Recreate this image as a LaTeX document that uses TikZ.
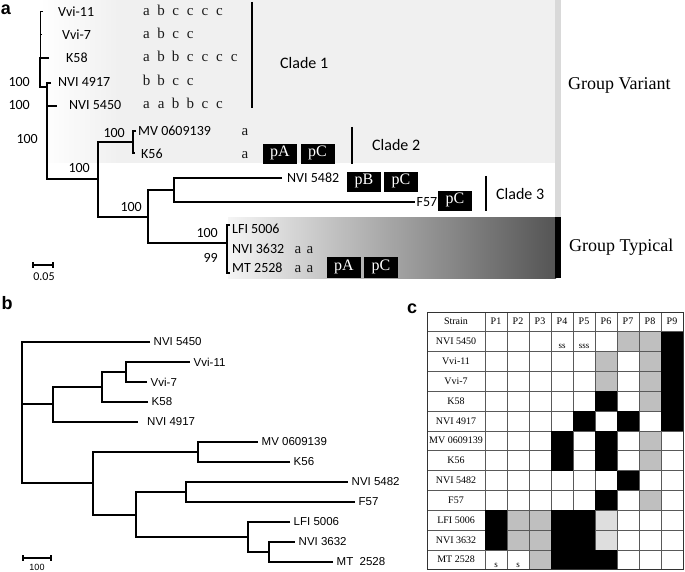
\documentclass[tikz,border=0pt]{standalone}
\usepackage{fontspec}
\setmainfont{Liberation Serif}
\newfontfamily\calfont{Carlito}
\newfontfamily\arialfont{Liberation Sans}
\tikzset{
  tl/.style={font=\calfont\fontsize{14}{14}\selectfont, anchor=west, inner sep=0pt},
  bs/.style={font=\calfont\fontsize{14}{14}\selectfont, anchor=east, inner sep=0pt},
  al/.style={font=\fontsize{15}{15}\selectfont, anchor=base, inner sep=0pt, text=black!90},
  pbox/.style={fill=black, text=white, font=\fontsize{16}{16}\selectfont, minimum width=34pt, minimum height=20pt, inner sep=0pt, text height=9pt, text depth=3pt},
  cl/.style={font=\calfont\fontsize{16}{16}\selectfont, anchor=west, inner sep=0pt},
  grp/.style={font=\fontsize{18}{18}\selectfont, anchor=west, inner sep=0pt},
  br/.style={line width=1.8pt},
  cbar/.style={line width=2pt},
  bl/.style={font=\arialfont\fontsize{11.5}{11.5}\selectfont, anchor=west, inner xsep=3.5pt, inner ysep=0pt},
  bb/.style={line width=1.8pt},
  tc/.style={font=\fontsize{10}{10}\selectfont, inner sep=0pt, text height=6.5pt, text depth=1.5pt},
  ts/.style={font=\fontsize{9}{9}\selectfont, inner sep=0pt, anchor=base},
  pl/.style={font=\arialfont\bfseries\fontsize{18}{18}\selectfont, inner sep=0pt},
  gridc/.style={draw=black!65, line width=0.8pt}
}
\newcommand\tcell[3]{\fill[#3] ({485+22*(#1-1)},{312+19.83*#2}) rectangle ({485+22*#1},{312+19.83*(#2+1)});}
\begin{document}
\begin{tikzpicture}[x=1pt,y=-1pt]
\useasboundingbox (0,0) rectangle (685,572);
% ---------------- panel a backgrounds
\shade[left color=white, right color=black!6] (40,0) rectangle (120,163);
\fill[black!6] (119.5,0) rectangle (556,163);
\fill[black!15] (555,0) rectangle (561,217);
\shade[left color=black!4, right color=black!67] (228,217) rectangle (556,278);
\fill[black] (555,217) rectangle (561,278);
\node[pl] (la) at (6,10) {a};
% ---------------- panel a labels
\node[tl] (aV11) at (58,12) {Vvi-11};
\node[tl] (aV7) at (62,35) {Vvi-7};
\node[tl] (aK58) at (66,58) {K58};
\node[tl] (aN4917) at (58,82) {NVI 4917};
\node[tl] (aN5450) at (69,105) {NVI 5450};
\node[tl] (aMV) at (138,131) {MV 0609139};
\node[tl] (aK56) at (141,154) {K56};
\node[tl, inner xsep=5pt] (aN5482) at (282,178) {NVI 5482};
\node[tl, inner xsep=1.5pt] (aF57) at (415,202) {F57};
\node[tl] (aLFI) at (232,229) {LFI 5006};
\node[tl] (aN3632) at (232,249) {NVI 3632};
\node[tl] (aMT) at (232,268) {MT 2528};
% bootstrap values
\node[bs] (s1) at (30,82) {100};
\node[bs] (s2) at (30,105) {100};
\node[bs] (s3) at (38,139) {100};
\node[bs] (s4) at (125,133) {100};
\node[bs] (s5) at (90,168) {100};
\node[bs] (s6) at (142,207) {100};
\node[bs] (s7) at (218,233) {100};
\node[bs] (s8) at (218,258) {99};
% tree a
\draw[line width=1pt] (43,12) -- (40.5,12) -- (40.5,58);
\draw[line width=1pt] (40.5,35) -- (42,35);
\draw[br] (49,58) -- (40,58) -- (40,87) -- (47,87);
\draw[br] (51,83) -- (47,83) -- (47,179) -- (98,179);
\draw[br] (47,106) -- (57,106);
\draw[br] (133,142) -| (98,217) -- (148,217);
\draw[br] (136,131) -- (133,131) -- (133,153) -- (135,153);
\draw[br] (aN5482.west) -| (174,202) -- (aF57.west);
\draw[br] (174,190) -| (148,243) -- (227,243);
\draw[br] (230,225) -- (227,225) -- (227,273) -- (230,273);
% scale bar a
\draw[line width=1.5pt] (33,262) -- (33,268) (33,265) -- (53,265) (53,262) -- (53,268);
\node[font=\calfont\fontsize{12}{12}\selectfont, inner sep=0pt] (sa) at (44,277) {0.05};
% allele letters
\foreach \l [count=\i from 0] in {a,b,c,c,c,c} \node[al] (r1\i) at ({146.5+14.6*\i},16) {\l};
\foreach \l [count=\i from 0] in {a,b,c,c} \node[al] (r2\i) at ({146.5+14.6*\i},39) {\l};
\foreach \l [count=\i from 0] in {a,b,b,c,c,c,c} \node[al] (r3\i) at ({146.5+14.6*\i},62) {\l};
\foreach \l [count=\i from 0] in {b,b,c,c} \node[al] (r4\i) at ({146.5+14.6*\i},86) {\l};
\foreach \l [count=\i from 0] in {a,a,b,b,c,c} \node[al] (r5\i) at ({146.5+14.6*\i},109) {\l};
\node[al] (r6) at (245,136) {a};
\node[al] (r7) at (245,159) {a};
\node[al] (r8a) at (298,253.5) {a};
\node[al] (r8b) at (310,253.5) {a};
\node[al] (r9a) at (298,272.5) {a};
\node[al] (r9b) at (310,272.5) {a};
% plasmid boxes
\node[pbox] (k56A) at (280,154) {pA};
\node[pbox] (k56C) at (317.5,154) {pC};
\node[pbox] (n82B) at (364,182) {pB};
\node[pbox] (n82C) at (401,182) {pC};
\node[pbox] (f57C) at (455,201) {pC};
\node[pbox, minimum height=21pt] (mtA) at (344,267.5) {pA};
\node[pbox, minimum height=21pt] (mtC) at (381,267.5) {pC};
% clades
\draw[cbar] (252,2) -- (252,108);
\node[cl] (c1) at (280,63) {Clade 1};
\draw[cbar] (352,127) -- (352,164);
\node[cl] (c2) at (372,145) {Clade 2};
\draw[cbar] (486,176) -- (486,211);
\node[cl] (c3) at (496,194) {Clade 3};
\node[grp] (gv) at (568,85) {Group Variant};
\node[grp] (gt) at (569,247) {Group Typical};
% ---------------- panel b
\node[pl] (lb) at (7,303) {b};
\node[bl] (bN5450) at (150,342) {NVI 5450};
\node[bl] (bV11) at (190,362) {Vvi-11};
\node[bl] (bV7) at (147,382) {Vvi-7};
\node[bl] (bK58) at (148,402) {K58};
\node[bl, inner xsep=9pt] (bN4917) at (138,422) {NVI 4917};
\node[bl] (bMV) at (258,442) {MV 0609139};
\node[bl] (bK56) at (290,462) {K56};
\node[bl] (bN5482) at (348,482) {NVI 5482};
\node[bl] (bF57) at (355,502) {F57};
\node[bl] (bLFI) at (290,522) {LFI 5006};
\node[bl] (bN3632) at (295,542) {NVI 3632};
\node[bl] (bMT) at (333,562) {MT~~2528};
\draw[bb] (bN5450.west) -| (22,483) -- (93,483);
\draw[bb] (22,404) -- (53,404);
\draw[bb] (bN4917.west) -| (53,387) -- (102,387);
\draw[bb] (bK58.west) -| (102,372) -- (126,372);
\draw[bb] (bV7.west) -| (126,362) -- (bV11.west);
\draw[bb] (bK56.west) -| (198,442) -- (bMV.west);
\draw[bb] (198,452) -| (93,515) -- (136,515);
\draw[bb] (bF57.west) -| (186,482) -- (bN5482.west);
\draw[bb] (186,492) -| (136,537) -- (248,537);
\draw[bb] (bLFI.west) -| (248,552) -- (269,552);
\draw[bb] (bMT.west) -| (269,542) -- (bN3632.west);
\draw[line width=1.3pt] (23,555) -- (23,561) (23,558) -- (51,558) (51,555) -- (51,561);
\node[font=\arialfont\fontsize{9}{9}\selectfont, inner sep=0pt] (sb) at (37,567) {100};
% ---------------- panel c
\node[pl] (lc) at (412,309) {c};
% gray cells
\foreach \c/\r in {7/1,8/1,6/2,8/2,6/3,8/3,8/4,8/6,8/7,8/9,2/10,3/10,2/11,3/11,3/12}{\tcell{\c}{\r}{black!25}}
\foreach \c/\r in {6/10,6/11}{\tcell{\c}{\r}{black!13}}
% grid
\foreach \x in {427,485,507,529,551,573,595,617,639,661,683} \draw[gridc] (\x,312) -- (\x,569.8);
\foreach \r in {0,...,13} \draw[gridc] (427,{312+19.83*\r}) -- (683,{312+19.83*\r});
% black cells
\foreach \c/\r in {9/1,9/2,9/3,9/4,9/5,6/4,5/5,7/5,4/6,4/7,6/6,6/7,7/8,6/9,1/10,1/11,4/10,5/10,4/11,5/11,4/12,5/12,6/12}{\tcell{\c}{\r}{black}}
\draw[draw=black!80, line width=1pt] (427,312) rectangle (683,569.8);
% header
\node[tc] (hS) at (456,322) {Strain};
\foreach \k in {1,...,9} \node[tc] (hP\k) at ({496+22*(\k-1)},322) {P\k};
% strains
\foreach \s [count=\i] in {NVI 5450,Vvi-11,Vvi-7,K58,NVI 4917,MV 0609139,K56,NVI 5482,F57,LFI 5006,NVI 3632,MT 2528}
  \node[tc] (st\i) at (456,{312+19.83*\i+10.5}) {\s};
\node[ts] (ss1) at (562,348) {ss};
\node[ts] (ss2) at (584,348) {sss};
\node[ts] (ss3) at (496,567) {s};
\node[ts] (ss4) at (518,567) {s};
\end{tikzpicture}
\end{document}
